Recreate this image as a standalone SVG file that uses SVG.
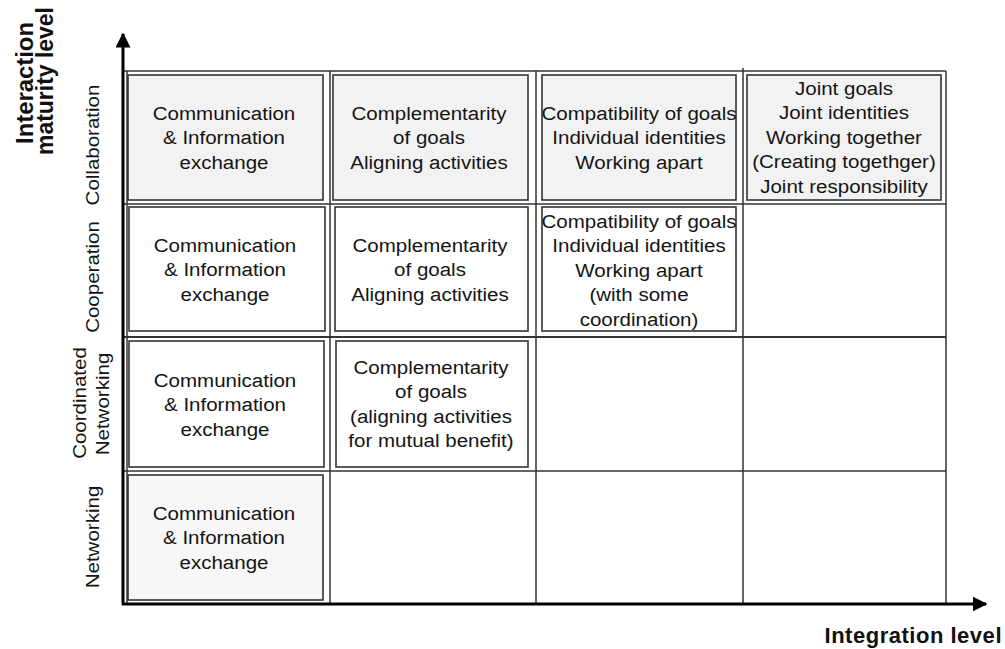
<svg xmlns="http://www.w3.org/2000/svg" width="1005" height="649" viewBox="0 0 1005 649">
<style>
  .t{font-family:"Liberation Sans",Arial,sans-serif;font-size:19px;fill:#141414;text-anchor:middle}
  .lbl{font-family:"Liberation Sans",Arial,sans-serif;font-size:19px;fill:#141414;text-anchor:middle}
  .title{font-family:"Liberation Sans",Arial,sans-serif;font-size:24px;font-weight:bold;fill:#111;text-anchor:middle}
  .grid{stroke:#333;stroke-width:1.5;fill:none}
  .box{stroke:#333;stroke-width:1.6}
  .g1{fill:#f2f2f2}
  .w{fill:#ffffff}
  .g4{fill:#f7f7f7}
  .axis{stroke:#000;stroke-width:3;fill:none}
</style>
<defs>
  <marker id="ah" viewBox="0 0 10 10" refX="9" refY="5" markerWidth="5" markerHeight="5" markerUnits="strokeWidth" orient="auto">
    <path d="M0,0 L10,5 L0,10 z" fill="#000"/>
  </marker>
</defs>
<rect width="1005" height="649" fill="#fff"/>

<g id="grid">
  <line class="grid" x1="124" y1="71" x2="946" y2="71"/>
  <line class="grid" x1="124" y1="204" x2="946" y2="204"/>
  <line class="grid" x1="124" y1="337" x2="946" y2="337" style="stroke-width:2"/>
  <line class="grid" x1="124" y1="471" x2="946" y2="471"/>
  <line class="grid" x1="127" y1="71" x2="127" y2="604"/>
  <line class="grid" x1="330" y1="71" x2="330" y2="604"/>
  <line class="grid" x1="536" y1="71" x2="536" y2="604"/>
  <line class="grid" x1="743" y1="68" x2="743" y2="604"/>
  <line class="grid" x1="946" y1="71" x2="946" y2="604"/>
</g>

<g id="connectors">
  <line class="axis" x1="123" y1="605" x2="123" y2="34" marker-end="url(#ah)"/>
  <line class="axis" x1="122" y1="604" x2="986" y2="604" marker-end="url(#ah)"/>
</g>

<g id="axis-titles">
  <text class="title" transform="translate(33,83) rotate(-90)" x="0" y="0" textLength="122" lengthAdjust="spacingAndGlyphs">Interaction</text>
  <text class="title" transform="translate(53,81) rotate(-90)" x="0" y="0" textLength="148" lengthAdjust="spacingAndGlyphs">maturity level</text>
  <text class="title" x="913" y="643" style="font-size:22px" textLength="177">Integration level</text>
</g>

<g id="row-labels">
  <text class="lbl" transform="translate(99,145) rotate(-90) scale(1.08,1)">Collaboration</text>
  <text class="lbl" transform="translate(99,277) rotate(-90) scale(1.08,1)">Cooperation</text>
  <text class="lbl" transform="translate(86,403) rotate(-90) scale(1.08,1)">Coordinated</text>
  <text class="lbl" transform="translate(109,404) rotate(-90) scale(1.08,1)">Networking</text>
  <text class="lbl" transform="translate(99,537) rotate(-90) scale(1.08,1)">Networking</text>
</g>

<g id="collab-comm">
  <rect class="box g1" x="128" y="75" width="195" height="125"/>
  <text class="t" transform="translate(224,0) scale(1.08,1)"><tspan x="0" y="120">Communication</tspan><tspan x="0" y="144.5">&amp; Information</tspan><tspan x="0" y="169">exchange</tspan></text>
</g>
<g id="collab-compl">
  <rect class="box g1" x="333" y="75" width="195" height="125"/>
  <text class="t" transform="translate(429,0) scale(1.08,1)"><tspan x="0" y="120">Complementarity</tspan><tspan x="0" y="144.5">of goals</tspan><tspan x="0" y="169">Aligning activities</tspan></text>
</g>
<g id="collab-compat">
  <rect class="box g1" x="542" y="75" width="194" height="125"/>
  <text class="t" transform="translate(639,0) scale(1.08,1)"><tspan x="0" y="120">Compatibility of goals</tspan><tspan x="0" y="144.5">Individual identities</tspan><tspan x="0" y="169">Working apart</tspan></text>
</g>
<g id="collab-joint">
  <rect class="box g1" x="747" y="75" width="194" height="125"/>
  <text class="t" transform="translate(844,0) scale(1.08,1)"><tspan x="0" y="95">Joint goals</tspan><tspan x="0" y="119.5">Joint identities</tspan><tspan x="0" y="144">Working together</tspan><tspan x="0" y="168.5">(Creating togethger)</tspan><tspan x="0" y="193">Joint responsibility</tspan></text>
</g>

<g id="coop-comm">
  <rect class="box w" x="129" y="207" width="196" height="124"/>
  <text class="t" transform="translate(225,0) scale(1.08,1)"><tspan x="0" y="252">Communication</tspan><tspan x="0" y="276.5">&amp; Information</tspan><tspan x="0" y="301">exchange</tspan></text>
</g>
<g id="coop-compl">
  <rect class="box w" x="335" y="207" width="193" height="124"/>
  <text class="t" transform="translate(430,0) scale(1.08,1)"><tspan x="0" y="252">Complementarity</tspan><tspan x="0" y="276.5">of goals</tspan><tspan x="0" y="301">Aligning activities</tspan></text>
</g>
<g id="coop-compat">
  <rect class="box w" x="542" y="207" width="194" height="124"/>
  <text class="t" transform="translate(639,0) scale(1.08,1)"><tspan x="0" y="228">Compatibility of goals</tspan><tspan x="0" y="252.5">Individual identities</tspan><tspan x="0" y="277">Working apart</tspan><tspan x="0" y="301.5">(with some</tspan><tspan x="0" y="326">coordination)</tspan></text>
</g>

<g id="coord-comm">
  <rect class="box w" x="129" y="341" width="195" height="126"/>
  <text class="t" transform="translate(225,0) scale(1.08,1)"><tspan x="0" y="387">Communication</tspan><tspan x="0" y="411.5">&amp; Information</tspan><tspan x="0" y="436">exchange</tspan></text>
</g>
<g id="coord-compl">
  <rect class="box w" x="336" y="341" width="192" height="126"/>
  <text class="t" transform="translate(431,0) scale(1.08,1)"><tspan x="0" y="374">Complementarity</tspan><tspan x="0" y="398.5">of goals</tspan><tspan x="0" y="423">(aligning activities</tspan><tspan x="0" y="447.5">for mutual benefit)</tspan></text>
</g>

<g id="net-comm">
  <rect class="box g4" x="128" y="475" width="195" height="125"/>
  <text class="t" transform="translate(224,0) scale(1.08,1)"><tspan x="0" y="520">Communication</tspan><tspan x="0" y="544.5">&amp; Information</tspan><tspan x="0" y="569">exchange</tspan></text>
</g>
</svg>
